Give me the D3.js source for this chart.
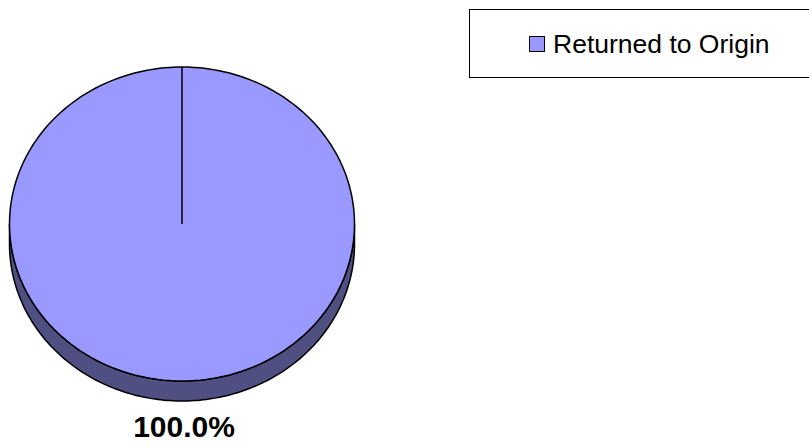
<!DOCTYPE html>
<html><head><meta charset="utf-8">
<script src="https://cdn.jsdelivr.net/npm/d3@7"></script>
<style>body{margin:0;background:#fff}svg{display:block}text{font-family:"Liberation Sans",Arial,Helvetica,sans-serif}</style>
</head><body>
<svg id="c" width="809" height="448"></svg>
<script>
const categories = ["Returned to Origin"];
const values = [100];
const labels = ["100.0%"];
const colors = ["#9999FF"];
const sideColors = ["#4F4F82"];

const svg = d3.select("#c");
const cx = 182, cy = 224, rx = 172.5, ry = 157, depth = 20;
const pie = d3.pie().sort(null)(values);

function pt(a, dy) { return [cx + rx * Math.sin(a), cy - ry * Math.cos(a) + (dy || 0)]; }
function arcPts(a0, a1, dy) {
  const n = 180, pts = [];
  for (let i = 0; i <= n; i++) pts.push(pt(a0 + (a1 - a0) * i / n, dy));
  return pts;
}
const line = d3.line();

// side walls (front half: angles PI/2..3PI/2)
pie.forEach((d, i) => {
  const a0 = Math.max(d.startAngle, Math.PI / 2), a1 = Math.min(d.endAngle, 3 * Math.PI / 2);
  if (a1 > a0) {
    const top = arcPts(a0, a1, 0), bot = arcPts(a1, a0, depth);
    svg.append("path").attr("d", line(top.concat(bot)) + "Z")
      .attr("fill", sideColors[i]).attr("stroke", "#000").attr("stroke-width", 1.5);
  }
});
// top faces
pie.forEach((d, i) => {
  const pts = arcPts(d.startAngle, d.endAngle, 0);
  const full = d.endAngle - d.startAngle >= 2 * Math.PI - 1e-6;
  svg.append("path").attr("d", line(pts) + "Z")
    .attr("fill", colors[i]).attr("stroke", "#000").attr("stroke-width", 1.5);
  const p = pt(d.startAngle, 0);
  svg.append("line").attr("x1", cx).attr("y1", cy).attr("x2", p[0]).attr("y2", p[1])
    .attr("stroke", "#000").attr("stroke-width", 1.5);
  if (!full) {
    const q = pt(d.endAngle, 0);
    svg.append("line").attr("x1", cx).attr("y1", cy).attr("x2", q[0]).attr("y2", q[1])
      .attr("stroke", "#000").attr("stroke-width", 1.5);
  }
  const mid = (d.startAngle + d.endAngle) / 2;
  const lp = full ? [cx + 2, cy + ry + depth + 36] : pt(mid, 0);
  svg.append("text").attr("x", lp[0]).attr("y", lp[1]).attr("text-anchor", "middle")
    .attr("font-weight", "bold").attr("font-size", 30).attr("fill", "#000").text(labels[i]);
});

// legend
const lg = svg.append("g");
lg.append("rect").attr("x", 469.5).attr("y", 9.5).attr("width", 345).attr("height", 68)
  .attr("fill", "#fff").attr("stroke", "#000").attr("stroke-width", 1);
categories.forEach((c, i) => {
  lg.append("rect").attr("x", 529.5).attr("y", 36.5 + i * 30).attr("width", 15).attr("height", 15)
    .attr("fill", colors[i]).attr("stroke", "#000").attr("stroke-width", 1);
  lg.append("text").attr("x", 553).attr("y", 53 + i * 30)
    .attr("font-size", 26.5).attr("fill", "#000").text(c);
});
</script>
</body></html>
